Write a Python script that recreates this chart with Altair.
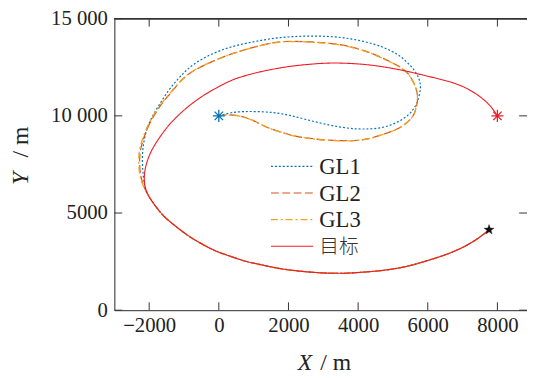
import altair as alt
import pandas as pd

FONT = "Liberation Serif"

names = ["GL1", "GL2", "GL3", "目标"]
colors = ["#0072BD", "#D95319", "#EDA41C", "#EE1C25"]
dashes = [[2, 2], [8, 3.5], [7, 3, 2, 3], [1, 0]]
widths = [1.2, 1.2, 1.3, 1.1]

x_ticks = [-2000, 0, 2000, 4000, 6000, 8000]
y_ticks = [0, 5000, 10000, 15000]

# target trajectory (own part) and the stretch shared by all curves
target_head_x = [8000, 7760, 7290, 6820, 6350, 5880, 5400, 4940, 4460, 3980, 3530, 3050, 2570,
                 2110, 1630, 1150, 640, 360, -110, -580, -1055, -1430, -1710, -1950, -2090, -2160]
target_head_y = [10000, 10650, 11280, 11670, 11890, 12090, 12300, 12460, 12600, 12680, 12720,
                 12720, 12650, 12570, 12430, 12260, 12010, 11840, 11410, 10910, 10230, 9560, 8880,
                 8200, 7530, 6850]
tail_x = [-2110, -1950, -1770, -1590, -1280, -870, -490, -110, 310, 730, 1260, 1720, 2200, 2650,
          3140, 3610, 4090, 4550, 5030, 5510, 5970, 6440, 6910, 7350, 7715, 7760]
tail_y = [6170, 5670, 5240, 4830, 4370, 3800, 3410, 3040, 2790, 2520, 2320, 2140, 2030, 1950,
          1900, 1890, 1950, 2010, 2120, 2290, 2540, 2800, 3130, 3560, 4060, 4140]

gl1_x = [0, 360, 740, 1210, 1680, 2110, 2570, 3050, 3530, 3950, 4290, 4630, 4940, 5220, 5480,
         5650, 5730, 5800, 5780, 5730, 5630, 5500, 5310, 5120, 4800, 4460, 3980, 3520, 3050,
         2570, 2090, 1630, 1160, 700, 220, -260, -720, -970, -1200, -1450, -1710, -2000, -2140,
         -2205, -2190, -2140]
gl1_y = [10000, 10180, 10230, 10220, 10160, 10000, 9780, 9570, 9400, 9320, 9320, 9360, 9520,
         9750, 10080, 10490, 10830, 11410, 11750, 12010, 12310, 12600, 12920, 13190, 13480,
         13700, 13910, 14040, 14100, 14110, 14080, 14010, 13870, 13710, 13490, 13150, 12680,
         12290, 11840, 11320, 10570, 9730, 8880, 8040, 7190, 6510]

gl2_x = [0, 270, 500, 740, 980, 1210, 1430, 1680, 1920, 2150, 2400, 2620, 2930, 3280, 3610, 3800,
         4040, 4350, 4700, 4940, 5170, 5370, 5545, 5635, 5685, 5715, 5705, 5640, 5535, 5450,
         5220, 4970, 4745, 4460, 4180, 3840, 3520, 3190, 2860, 2510, 2200, 1915, 1630, 1405,
         1160, 700, 220, -260, -720, -1055, -1385, -1595, -1760, -1990, -2140, -2200, -2260,
         -2280, -2265, -2235, -2175]
gl2_y = [10000, 10065, 10030, 9940, 9775, 9560, 9370, 9220, 9090, 8965, 8890, 8845, 8770, 8735,
         8725, 8710, 8745, 8835, 9040, 9190, 9345, 9600, 9875, 10180, 10535, 10905, 11160, 11585,
         11905, 12175, 12515, 12745, 12935, 13175, 13360, 13530, 13665, 13735, 13785, 13820,
         13835, 13835, 13785, 13705, 13615, 13380, 13110, 12745, 12350, 11905, 11160, 10740,
         10320, 9625, 8965, 8610, 8205, 7695, 7190, 6835, 6480]

gl3_x = [0, 270, 505, 745, 985, 1215, 1440, 1690, 1925, 2160, 2405, 2625, 2935, 3285, 3610, 3800,
         4040, 4350, 4695, 4935, 5165, 5365, 5540, 5630, 5680, 5710, 5700, 5635, 5530, 5445,
         5215, 4965, 4740, 4455, 4175, 3835, 3515, 3185, 2855, 2505, 2195, 1910, 1625, 1400,
         1150, 690, 205, -280, -745, -1080, -1410, -1620, -1790, -2020, -2170, -2230, -2290,
         -2305, -2290, -2255, -2190]
gl3_y = [10000, 10060, 10020, 9930, 9765, 9550, 9360, 9210, 9080, 8955, 8880, 8835, 8760, 8725,
         8715, 8705, 8740, 8830, 9030, 9185, 9340, 9595, 9870, 10175, 10530, 10900, 11155, 11580,
         11900, 12170, 12510, 12740, 12925, 13165, 13350, 13520, 13655, 13725, 13775, 13810,
         13825, 13825, 13775, 13695, 13605, 13370, 13095, 12730, 12330, 11885, 11140, 10720,
         10300, 9605, 8945, 8590, 8185, 7680, 7180, 6825, 6470]

marker_x = [0, 8000]
marker_y = [10000, 10000]
marker_col = ["#0072BD", "#EE1C25"]
end_x = [7760]
end_y = [4140]

# ---------------------------------------------------------------- data tables
series_xy = {
    "GL1": (gl1_x + tail_x, gl1_y + tail_y),
    "GL2": (gl2_x + tail_x, gl2_y + tail_y),
    "GL3": (gl3_x + tail_x, gl3_y + tail_y),
    "目标": (target_head_x + tail_x, target_head_y + tail_y),
}
tables = {}
for s, (sx, sy) in series_xy.items():
    n = min(len(sx), len(sy))
    tables[s] = pd.DataFrame({"x": sx[:n], "y": sy[:n], "i": list(range(n))})
mk = pd.DataFrame({"x": marker_x, "y": marker_y, "col": marker_col})
endp = pd.DataFrame({"x": end_x, "y": end_y})
xt = pd.DataFrame({"x": x_ticks})
yt = pd.DataFrame({"y": y_ticks})

W, H = 419, 296
TICK = 8
xs = alt.Scale(domain=[-3000, 8850], nice=False, zero=False)
ys = alt.Scale(domain=[0, 15000], nice=False, zero=False)

x_axis = alt.Axis(orient="bottom", values=x_ticks, format="d", ticks=False, grid=False, title=None,
                  labelFont=FONT, labelFontSize=21, labelColor="#222", labelPadding=5,
                  domainColor="#333", domainWidth=1)
y_axis = alt.Axis(orient="left", values=y_ticks, ticks=False, grid=False, title=None,
                  labelExpr="datum.value >= 10000 ? replace(format(datum.value, ','), ',', ' ') : format(datum.value, 'd')",
                  labelFont=FONT, labelFontSize=21, labelColor="#222", labelPadding=7,
                  domainColor="#333", domainWidth=1)
X = alt.X("x:Q", scale=xs, axis=x_axis)
Y = alt.Y("y:Q", scale=ys, axis=y_axis)

layers = []
for s, c, d, w in zip(names, colors, dashes, widths):
    layers.append(
        alt.Chart(tables[s]).mark_line(color=c, strokeDash=d, strokeWidth=w,
                                       interpolate="basis").encode(
            x=X, y=Y, order="i:Q")
    )

# inward ticks on all four sides, placed through the shared scales
layers.append(alt.Chart(xt).mark_rule(color="#333", strokeWidth=1).encode(
    x=X, y=alt.value(H), y2=alt.value(H - TICK)))
layers.append(alt.Chart(xt).mark_rule(color="#333", strokeWidth=1).encode(
    x=X, y=alt.value(0), y2=alt.value(TICK)))
layers.append(alt.Chart(yt).mark_rule(color="#333", strokeWidth=1).encode(
    y=Y, x=alt.value(0), x2=alt.value(TICK)))
layers.append(alt.Chart(yt).mark_rule(color="#333", strokeWidth=1).encode(
    y=Y, x=alt.value(W), x2=alt.value(W - TICK)))
layers.append(alt.Chart(xt).mark_rule(color="#333", strokeWidth=1).encode(
    x=alt.value(0), x2=alt.value(W), y=alt.value(0)))

ast_path = "M-1,0L1,0M0,-1L0,1M-0.7,-0.7L0.7,0.7M-0.7,0.7L0.7,-0.7"
star_path = ("M0,-1L0.235,-0.324L0.951,-0.309L0.38,0.124L0.588,0.809L0,0.4L-0.588,0.809"
             "L-0.38,0.124L-0.951,-0.309L-0.235,-0.324Z")
layers.append(alt.Chart(mk).mark_point(shape=ast_path, filled=False, strokeWidth=1.3, size=150,
                                       opacity=1).encode(
    x=X, y=Y, stroke=alt.Stroke("col:N", scale=None)))
layers.append(alt.Chart(endp).mark_point(shape=star_path, filled=True, fill="#111", stroke="#111",
                                         strokeWidth=0.4, size=110, opacity=1).encode(x=X, y=Y))

# legend (manual)
one = pd.DataFrame({"k": [0]})
LEG_X0, LEG_X1, LEG_Y0, LEG_DY = 159, 202, 150, 27
for j, (s, c, d, w) in enumerate(zip(names, colors, dashes, widths)):
    yy = LEG_Y0 + j * LEG_DY
    cjk = not s.isascii()
    layers.append(alt.Chart(one).mark_rule(color=c, strokeDash=d, strokeWidth=w).encode(
        x=alt.value(LEG_X0), x2=alt.value(LEG_X1), y=alt.value(yy)))
    layers.append(alt.Chart(one).mark_text(
        font="Noto Sans CJK SC" if cjk else FONT, fontSize=20 if cjk else 23,
        fontWeight=300 if cjk else "normal",
        align="left", baseline="middle", color="#333" if cjk else "#222").encode(
        x=alt.value(LEG_X1 + 6), y=alt.value(yy + 1), text=alt.value(s)))

# axis titles
layers.append(alt.Chart(one).mark_text(font=FONT, fontSize=24, fontStyle="italic", align="right",
                                       baseline="alphabetic", color="#222").encode(
    x=alt.value(201), y=alt.value(357), text=alt.value("X")))
layers.append(alt.Chart(one).mark_text(font=FONT, fontSize=24, align="left", baseline="alphabetic",
                                       color="#222").encode(
    x=alt.value(209), y=alt.value(357), text=alt.value("/ m")))
layers.append(alt.Chart(one).mark_text(font=FONT, fontSize=24, fontStyle="italic", align="left",
                                       baseline="alphabetic", angle=270, color="#222").encode(
    x=alt.value(-88), y=alt.value(169), text=alt.value("Y")))
layers.append(alt.Chart(one).mark_text(font=FONT, fontSize=24, align="left", baseline="alphabetic",
                                       angle=270, color="#222").encode(
    x=alt.value(-88), y=alt.value(141), text=alt.value("/ m")))

chart = alt.layer(*layers).properties(
    width=W, height=H,
    autosize=alt.AutoSizeParams(type="none"),
    padding={"left": 108, "top": 8, "right": 0, "bottom": 66},
).configure_view(stroke=None).configure(background="white")

chart.save("out.html", embed_options={"renderer": "svg", "actions": False})
